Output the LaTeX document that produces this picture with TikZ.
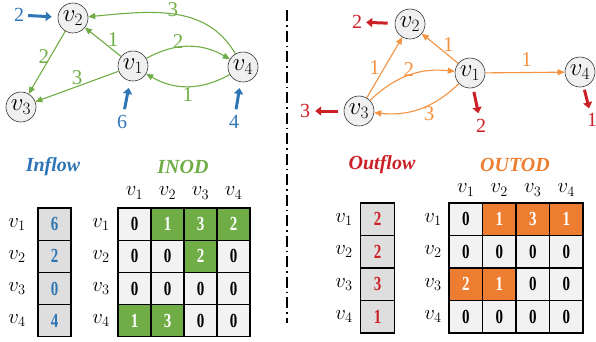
\documentclass[tikz,border=0pt]{standalone}
\usepackage{fontspec}
\setmainfont{Liberation Serif}
\usetikzlibrary{arrows.meta}
\definecolor{gr}{HTML}{70AD47}
\definecolor{org}{HTML}{ED7D31}
\definecolor{orl}{HTML}{F39240}
\definecolor{bl}{HTML}{2E75B6}
\definecolor{rd}{RGB}{204,32,39}
\definecolor{nodefill}{RGB}{240,240,240}
\definecolor{cellfill}{RGB}{242,242,242}
\definecolor{flowfill}{RGB}{222,222,222}
\newcommand{\cellnum}[1]{\scalebox{0.75}[1]{#1}}
\begin{document}
\begin{tikzpicture}[x=1pt,y=-1pt,
  vnode/.style={circle, draw=black!80, line width=0.6pt, fill=nodefill, minimum size=30pt, inner sep=0pt, font=\fontsize{23}{23}\selectfont},
  gedge/.style={draw=gr, line width=1.1pt, -{Triangle[length=7pt,width=6pt]}},
  oedge/.style={draw=orl, line width=1.1pt, -{Triangle[length=7pt,width=6pt]}},
  elab/.style={font=\fontsize{21}{21}\selectfont, inner sep=1pt},
  flowlab/.style={font=\fontsize{20}{20}\selectfont, inner sep=1pt},
  barrow/.style={draw=bl, line width=3pt, -{Triangle[length=6pt,width=9pt]}},
  rarrow/.style={draw=rd, line width=3pt, -{Triangle[length=6pt,width=9pt]}},
  cell/.style={draw=black, line width=1.2pt, minimum width=33pt, minimum height=32.2pt, inner sep=0pt, font=\bfseries\fontsize{20}{20}\selectfont},
  cellr/.style={draw=black, line width=1.2pt, minimum width=33.5pt, minimum height=32.5pt, inner sep=0pt, font=\bfseries\fontsize{20}{20}\selectfont},
  hlab/.style={font=\fontsize{22}{22}\selectfont, inner sep=0pt},
  title/.style={font=\bfseries\itshape\fontsize{20}{20}\selectfont, inner sep=0pt}
]
\useasboundingbox (0,0) rectangle (596,341);

% ---------- left graph ----------
\node[vnode] (v1) at (133,66) {$v_1$};
\node[vnode] (v2) at (73,18) {$v_2$};
\node[vnode] (v3) at (21,107) {$v_3$};
\node[vnode] (v4) at (243,67) {$v_4$};

\draw[gedge] (v4) to[out=120,in=5] node[elab, text=gr, pos=0.5, above=-4pt] {3} (v2);
\draw[gedge] (v2) -- node[elab, text=gr, pos=0.4, left=0pt] {2} (v3);
\draw[gedge] (v1) -- node[elab, text=gr, pos=0.35, above right=-2pt] {1} (v2);
\draw[gedge] (v1) -- node[elab, text=gr, pos=0.5, above=0pt] {3} (v3);
\draw[gedge] (v1) to[bend left=30] node[elab, text=gr, pos=0.38, above=-3pt] {2} (v4);
\draw[gedge] (v4) to[bend left=30] node[elab, text=gr, pos=0.5, below=0pt] {1} (v1);

\node[flowlab, text=bl] (in2) at (19,15) {2};
\node[flowlab, text=bl] (in6) at (122,122) {6};
\node[flowlab, text=bl] (in4) at (234,122) {4};
\draw[barrow, shorten <=3pt, shorten >=6pt] (in2) -- (v2);
\draw[barrow, shorten <=5pt, shorten >=7pt] (in6) -- (v1);
\draw[barrow, shorten <=5pt, shorten >=6pt] (in4) -- (v4);

% ---------- separator ----------
\coordinate (sepA) at (287,10);
\coordinate (sepB) at (287,323);
\draw[line width=1.4pt, dash pattern=on 11pt off 4pt on 1.5pt off 4pt] (sepA) -- (sepB);

% ---------- right graph ----------
\node[vnode] (w1) at (470,73) {$v_1$};
\node[vnode] (w2) at (410,24) {$v_2$};
\node[vnode] (w3) at (359,111) {$v_3$};
\node[vnode] (w4) at (580,72) {$v_4$};

\draw[oedge] (w3) -- node[elab, text=orl, pos=0.5, left=3pt] {1} (w2);
\draw[oedge] (w1) -- node[elab, text=orl, pos=0.4, above right=-2pt] {1} (w2);
\draw[oedge] (w3) to[bend left=25] node[elab, text=orl, pos=0.5, above=-3pt] {2} (w1);
\draw[oedge] (w1) to[bend left=25] node[elab, text=orl, pos=0.45, below right=-2pt] {3} (w3);
\draw[oedge] (w1) -- node[elab, text=orl, pos=0.52, above=4pt] {1} (w4);

\node[flowlab, text=rd] (out2) at (357,22) {2};
\node[flowlab, text=rd] (out3) at (305,111) {3};
\node[flowlab, text=rd] (out1) at (481,126) {2};
\node[flowlab, text=rd] (out4) at (592,120) {1};
\draw[rarrow, shorten <=7pt, shorten >=3pt] (w2) -- (out2);
\draw[rarrow, shorten <=6pt, shorten >=4pt] (w3) -- (out3);
\draw[rarrow, shorten <=4pt, shorten >=5pt] (w1) -- (out1);
\draw[rarrow, shorten <=3pt, shorten >=4pt] (w4) -- (out4);

% ---------- left tables ----------
\node[title, text=bl] (tin) at (53,167) {Inflow};
\node[title, text=gr] (tinod) at (183,167) {INOD};
\foreach \c in {1,2,3,4} {
  \node[hlab] (ich\c) at ({118+33*(\c-0.5)},193) {$v_\c$};
}
\foreach \r/\v in {1/6,2/2,3/0,4/4} {
  \node[hlab] (ilr\r) at (17,{208+32.2*(\r-0.5)}) {$v_\r$};
  \node[hlab] (imr\r) at (101,{208+32.2*(\r-0.5)}) {$v_\r$};
  \node[cell, fill=flowfill, text=bl] (inf\r) at (54.5,{208+32.2*(\r-0.5)}) {\cellnum{\v}};
}
\foreach \r/\c/\v in {1/1/0,2/1/0,2/2/0,2/4/0,3/1/0,3/2/0,3/3/0,3/4/0,4/3/0,4/4/0} {
  \node[cell, fill=cellfill] (in-\r-\c) at ({118+33*(\c-0.5)},{208+32.2*(\r-0.5)}) {\cellnum{\v}};
}
\foreach \r/\c/\v in {1/2/1,1/3/3,1/4/2,2/3/2,4/1/1,4/2/3} {
  \node[cell, fill=gr, text=white] (in-\r-\c) at ({118+33*(\c-0.5)},{208+32.2*(\r-0.5)}) {\cellnum{\v}};
}

% ---------- right tables ----------
\node[title, text=rd] (tout) at (382,165) {Outflow};
\node[title, text=org] (toutod) at (515,165) {OUTOD};
\foreach \c in {1,2,3,4} {
  \node[hlab] (och\c) at ({449+33.5*(\c-0.5)},190) {$v_\c$};
}
\foreach \r/\v in {1/2,2/2,3/3,4/1} {
  \node[hlab] (olr\r) at (344,{203+32.5*(\r-0.5)}) {$v_\r$};
  \node[hlab] (omr\r) at (433,{203+32.5*(\r-0.5)}) {$v_\r$};
  \node[cellr, fill=flowfill, text=rd] (outf\r) at (377.5,{203+32.5*(\r-0.5)}) {\cellnum{\v}};
}
\foreach \r/\c/\v in {1/1/0,2/1/0,2/2/0,2/3/0,2/4/0,3/3/0,3/4/0,4/1/0,4/2/0,4/3/0,4/4/0} {
  \node[cellr, fill=cellfill] (out-\r-\c) at ({449+33.5*(\c-0.5)},{203+32.5*(\r-0.5)}) {\cellnum{\v}};
}
\foreach \r/\c/\v in {1/2/1,1/3/3,1/4/1,3/1/2,3/2/1} {
  \node[cellr, fill=org, text=white] (out-\r-\c) at ({449+33.5*(\c-0.5)},{203+32.5*(\r-0.5)}) {\cellnum{\v}};
}
\end{tikzpicture}
\end{document}
